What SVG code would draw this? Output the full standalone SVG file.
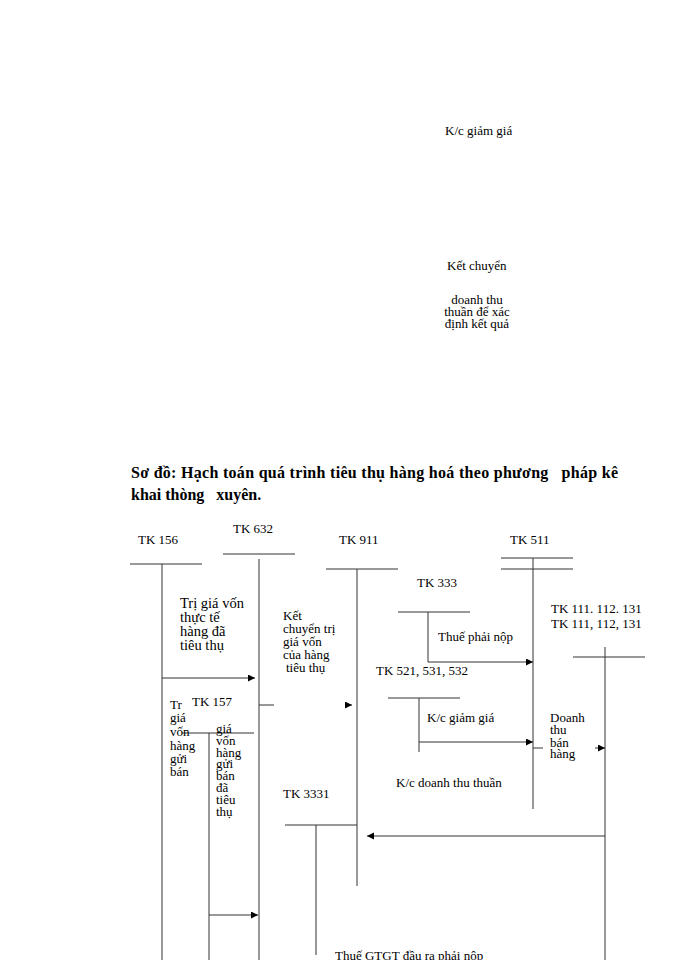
<svg xmlns="http://www.w3.org/2000/svg" width="700" height="960" viewBox="0 0 700 960">
<style>
text{font-family:"Liberation Serif","Times New Roman",serif;font-size:13px;fill:#000}
.t{font-weight:bold;font-size:16px;white-space:pre}
.c{text-anchor:middle}
.b{font-size:14.5px}
line{stroke:#333;stroke-width:1}
.a{marker-end:url(#ah)}
</style>
<defs>
<marker id="ah" markerUnits="userSpaceOnUse" markerWidth="8" markerHeight="8" refX="7" refY="3.5" orient="auto">
<path d="M0,0 L7,3.5 L0,7 Z" fill="#000"/>
</marker>
</defs>
<rect width="700" height="960" fill="#fff"/>
<g id="top-notes">
<text x="445" y="135">K/c giảm giá</text>
<text x="447" y="270">Kết chuyển</text>
<text class="c" x="477" y="304">doanh thu</text>
<text class="c" x="477" y="316">thuần để xác</text>
<text class="c" x="477" y="328">định kết quả</text>
</g>
<g id="title">
<text class="t" x="131" y="478" textLength="487" lengthAdjust="spacing">Sơ đồ: Hạch toán quá trình tiêu thụ hàng hoá theo phương   pháp kê</text>
<text class="t" x="131" y="500">khai thòng   xuyên.</text>
</g>
<g id="tk156"><text x="138" y="544">TK 156</text><line x1="130" y1="564" x2="202" y2="564"/><line x1="162" y1="564" x2="162" y2="960"/></g>
<g id="tk632"><text x="233" y="533">TK 632</text><line x1="223" y1="554" x2="295" y2="554"/><line x1="259" y1="559" x2="259" y2="960"/></g>
<g id="tk911"><text x="339" y="544">TK 911</text><line x1="326" y1="569" x2="398" y2="569"/><line x1="357" y1="569" x2="357" y2="886"/></g>
<g id="tk511"><text x="510" y="544">TK 511</text><line x1="501" y1="558" x2="573" y2="558"/><line x1="501" y1="569" x2="573" y2="569"/><line x1="533" y1="558" x2="533" y2="809"/></g>
<g id="tk333"><text x="417" y="587">TK 333</text><line x1="398" y1="612" x2="470" y2="612"/><line x1="428" y1="612" x2="428" y2="662"/></g>
<g id="tk111"><text x="551" y="613">TK 111. 112. 131</text><text x="551" y="628">TK 111, 112, 131</text><line x1="573" y1="657" x2="645" y2="657"/><line x1="605" y1="647" x2="605" y2="960"/></g>
<g id="tk521"><text x="376" y="675">TK 521, 531, 532</text><line x1="388" y1="698" x2="460" y2="698"/><line x1="419" y1="698" x2="419" y2="752"/></g>
<g id="tk157"><text x="192" y="706">TK 157</text><line x1="182" y1="733" x2="254" y2="733"/><line x1="209" y1="733" x2="209" y2="960"/></g>
<g id="tk3331"><text x="283" y="798">TK 3331</text><line x1="285" y1="825" x2="357" y2="825"/><line x1="316" y1="825" x2="316" y2="955"/></g>
<g id="labels">
<text class="b" x="180" y="608">Trị giá vốn</text>
<text class="b" x="180" y="622">thực tế</text>
<text class="b" x="180" y="636">hàng đã</text>
<text class="b" x="180" y="650">tiêu thụ</text>
<text x="283" y="620">Kết</text>
<text x="283" y="633">chuyển trị</text>
<text x="283" y="646">giá vốn</text>
<text x="283" y="659">của hàng</text>
<text x="286" y="672">tiêu thụ</text>
<text x="438" y="641">Thuế phải nộp</text>
<text x="427" y="722">K/c giảm giá</text>
<text x="550" y="722">Doanh</text>
<text x="550" y="734">thu</text>
<text x="550" y="747">bán</text>
<text x="550" y="758">hàng</text>
<text x="396" y="787">K/c doanh thu thuần</text>
<text x="170" y="709">Tr</text>
<text x="170" y="722">giá</text>
<text x="170" y="736">vốn</text>
<text x="170" y="750">hàng</text>
<text x="170" y="763">gửi</text>
<text x="170" y="776">bán</text>
<text x="216" y="733">giá</text>
<text x="216" y="745">vốn</text>
<text x="216" y="757">hàng</text>
<text x="216" y="768">gửi</text>
<text x="216" y="780">bán</text>
<text x="216" y="792">đã</text>
<text x="216" y="804">tiêu</text>
<text x="216" y="816">thụ</text>
<text x="335" y="960">Thuế GTGT đầu ra phải nộp</text>
</g>
<g id="connectors">
<line class="a" x1="162" y1="678" x2="255" y2="678"/>
<line class="a" x1="428" y1="662" x2="533" y2="662"/>
<line class="a" x1="419" y1="742" x2="533" y2="742"/>
<line x1="259" y1="705" x2="274" y2="705"/>
<line class="a" x1="346" y1="705" x2="352" y2="705"/>
<line x1="533" y1="748" x2="543" y2="748"/>
<line class="a" x1="595" y1="748" x2="605" y2="748"/>
<line class="a" x1="605" y1="836" x2="367" y2="836"/>
<line class="a" x1="209" y1="915" x2="258" y2="915"/>
</g>
</svg>
